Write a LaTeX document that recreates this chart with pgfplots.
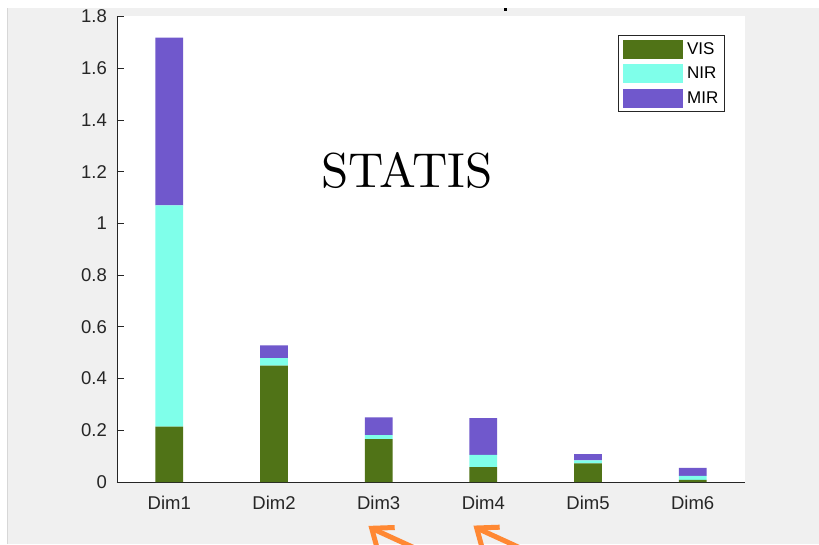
\documentclass[border=0pt]{standalone}
\usepackage{pgfplots}
\pgfplotsset{compat=1.18}
\usepackage{fontspec}
\newfontfamily\arial{Liberation Sans}
\newfontface\lmten[Extension=.otf]{lmroman10-regular}

\definecolor{vis}{RGB}{80,115,23}
\definecolor{nir}{RGB}{127,255,234}
\definecolor{mir}{RGB}{112,88,204}
\definecolor{panel}{RGB}{240,240,240}
\definecolor{edgeline}{RGB}{215,215,215}
\definecolor{arrowor}{RGB}{255,136,51}
\definecolor{axgray}{RGB}{38,38,38}

\begin{document}
\begin{tikzpicture}[x=1pt,y=1pt]
% figure window
\path[use as bounding box] (-117,-62) rectangle (702,482);
\clip (-117,-62) rectangle (702,482);
\fill[white] (-117,-62) rectangle (702,482);
\fill[panel] (-109,-62) rectangle (702,474);
\draw[edgeline, line width=1pt] (-109.5,-62) -- (-109.5,474);
\fill[black] (387,471.3) rectangle (389.7,474);

\begin{axis}[
  at={(0,0)}, anchor=south west,
  scale only axis, width=628pt, height=465.5pt,
  xmin=0.5, xmax=6.5, ymin=0, ymax=1.8,
  axis background/.style={fill=white},
  axis x line*=bottom, axis y line*=left,
  axis line style={axgray, line width=0.8pt},
  tick align=inside, major tick length=7pt,
  xtick={1,2,3,4,5,6},
  xticklabels={Dim1,Dim2,Dim3,Dim4,Dim5,Dim6},
  xtick style={draw=none},
  ytick={0,0.2,0.4,0.6,0.8,1,1.2,1.4,1.6,1.8},
  ytick style={axgray, line width=0.8pt},
  /pgf/number format/assume math mode=true,
  yticklabel style={font=\arial\fontsize{18.5}{20}\selectfont, text=axgray, inner sep=0pt, anchor=east, xshift=-10pt},
  xticklabel style={font=\arial\fontsize{18.5}{20}\selectfont, text=axgray, inner sep=0pt, anchor=north, yshift=-14pt},
  ybar stacked, bar width=0.265,
  legend style={at={(rel axis cs:0.9677,0.9598)}, anchor=north east,
    draw=axgray, line width=0.8pt, fill=white,
    font=\arial\fontsize{17}{19}\selectfont,
    nodes={inner sep=1.5pt}, inner xsep=4.5pt, inner ysep=4pt,
    row sep=5.5pt, column sep=0pt},
  legend cell align=left,
  legend image code/.code={\fill[#1] (0pt,-9.5pt) rectangle (60pt,9.5pt); \path (62.5pt,0pt);},
]
% VIS
\addplot[fill=vis, draw=none] coordinates {(1,0.214) (2,0.450) (3,0.166) (4,0.058) (5,0.072) (6,0.008)};
% NIR
\addplot[fill=nir, draw=none] coordinates {(1,0.856) (2,0.029) (3,0.015) (4,0.0465) (5,0.012) (6,0.016)};
% MIR
\addplot[fill=mir, draw=none] coordinates {(1,0.648) (2,0.049) (3,0.069) (4,0.1425) (5,0.024) (6,0.031)};
\legend{VIS,NIR,MIR}
\node[inner sep=0pt] at (rel axis cs:0.4618,0.6692) {\lmten\fontsize{49}{52}\selectfont STATIS};
\end{axis}

% orange pointers below the category labels
\foreach \tx/\ty in {254.7/-46.3, 359.7/-46} {
  \draw[arrowor, line width=5pt, line join=miter, line cap=butt]
    (\tx+23,\ty+0.8) -- (\tx,\ty) -- (\tx+6,\ty-22);
  \draw[arrowor, line width=5pt, line cap=butt]
    (\tx+1,\ty-0.5) -- (\tx+48,\ty-22);
}
\end{tikzpicture}
\end{document}
